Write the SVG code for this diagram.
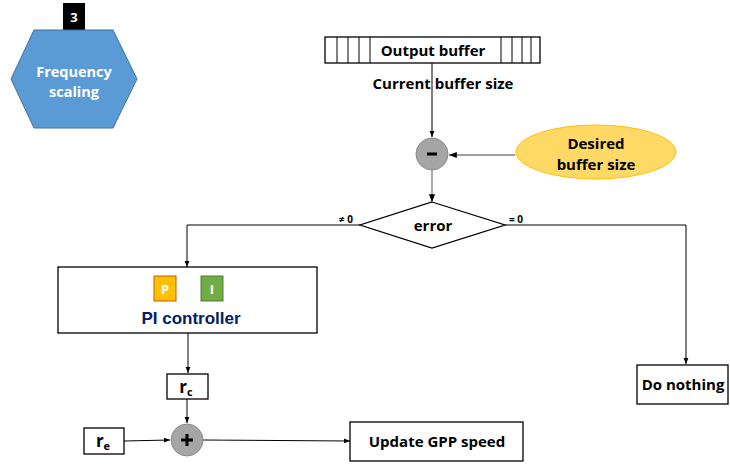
<svg xmlns="http://www.w3.org/2000/svg" width="730" height="465" viewBox="0 0 730 465">
<style>
text{font-family:"Open Sans","Liberation Sans",Arial,sans-serif;font-weight:bold;text-anchor:middle;dominant-baseline:central}
.b{fill:#fff;stroke:#000;stroke-width:1.3}
.t{font-size:15px;fill:#000}
.c{fill:none;stroke:#000;stroke-width:1}
.g{fill:none;stroke:#808080;stroke-width:1.3}
.sum{fill:#a5a5a5;stroke:#8c8c8c;stroke-width:1}
</style>
<defs>
<marker id="ah" viewBox="0 0 10 10" refX="10" refY="5" markerWidth="6" markerHeight="6" orient="auto"><path d="M0,1 L10,5 L0,9 z" fill="#000"/></marker>
</defs>
<rect width="730" height="465" fill="#fff"/>
<g id="freq">
<rect x="63" y="3" width="22" height="27" fill="#000"/>
<text x="74" y="17" style="font-size:13px;fill:#fff">3</text>
<polygon points="34,30 113,30 137,79 113,128 34,128 11,79" fill="#5b9bd5" stroke="#41719c" stroke-width="1"/>
<text x="74" y="71" style="font-size:14.5px;fill:#fff">Frequency</text>
<text x="74" y="91" style="font-size:14.5px;fill:#fff">scaling</text>
</g>
<g id="outbuf">
<rect x="325" y="37" width="215" height="26" class="b"/>
<path d="M337,37V63M348,37V63M359,37V63M370,37V63M501,37V63M512,37V63M522,37V63M531,37V63" stroke="#000" stroke-width="1"/>
<text x="433" y="50" class="t">Output buffer</text>
</g>
<g id="connectors">
<line x1="432" y1="63" x2="432" y2="137" class="c" marker-end="url(#ah)"/>
<line x1="515" y1="155" x2="449" y2="155" class="g" marker-end="url(#ah)"/>
<line x1="432" y1="170" x2="432" y2="202" class="g" marker-end="url(#ah)"/>
<polyline points="360,225 187,225 187,267" class="c" marker-end="url(#ah)"/>
<polyline points="505,225 686,225 686,364" class="c" marker-end="url(#ah)"/>
<line x1="188" y1="333" x2="188" y2="373" class="c" marker-end="url(#ah)"/>
<line x1="187" y1="399" x2="187" y2="423" class="c" marker-end="url(#ah)"/>
<line x1="124" y1="441" x2="170" y2="440" class="c" marker-end="url(#ah)"/>
<line x1="203" y1="440" x2="350" y2="441" class="c" marker-end="url(#ah)"/>
<text x="346" y="219" style="font-size:10px">≠ 0</text>
<text x="516" y="219" style="font-size:10px">= 0</text>
</g>
<text x="443" y="83" class="t" style="fill:#000">Current buffer size</text>
<g id="minus">
<circle cx="432" cy="154" r="16" class="sum"/>
<rect x="427" y="152.5" width="10" height="3" fill="#000"/>
</g>
<g id="desired">
<ellipse cx="596" cy="152" rx="80" ry="27" fill="#ffd966" stroke="#ffc000" stroke-width="1"/>
<text x="596" y="143" class="t">Desired</text>
<text x="596" y="164" class="t">buffer size</text>
</g>
<g id="error">
<polygon points="432,202 505,225 432,248 360,225" class="b"/>
<text x="433" y="225" class="t">error</text>
</g>
<g id="pi">
<rect x="58" y="267" width="259" height="66" class="b"/>
<rect x="154" y="276" width="22" height="25" fill="#ffc000" stroke="#c55a11" stroke-width="1"/>
<text x="165" y="289" style="font-size:13px;fill:#fff">P</text>
<rect x="201" y="276" width="22" height="25" fill="#70ad47" stroke="#507e32" stroke-width="1"/>
<text x="212" y="289" style="font-size:13px;fill:#fff">I</text>
<text x="191" y="318" style="font-family:'Liberation Sans',Arial,sans-serif;font-size:17px;fill:#002060">PI controller</text>
</g>
<g id="rc">
<rect x="167" y="374" width="41" height="25" class="b"/>
<text x="186" y="386" class="t" style="font-size:17px">r<tspan dy="5" style="font-size:11px">c</tspan></text>
</g>
<g id="re">
<rect x="84" y="428" width="40" height="26" class="b"/>
<text x="103" y="440" class="t" style="font-size:17px">r<tspan dy="5" style="font-size:11px">e</tspan></text>
</g>
<g id="plus">
<circle cx="187" cy="440" r="16" class="sum"/>
<path d="M187,434V446M181,440H193" stroke="#000" stroke-width="3"/>
</g>
<g id="update">
<rect x="350" y="422" width="173" height="39" class="b"/>
<text x="437" y="441" class="t">Update GPP speed</text>
</g>
<g id="nothing">
<rect x="637" y="365" width="91" height="39" class="b"/>
<text x="683" y="384" class="t">Do nothing</text>
</g>
</svg>
